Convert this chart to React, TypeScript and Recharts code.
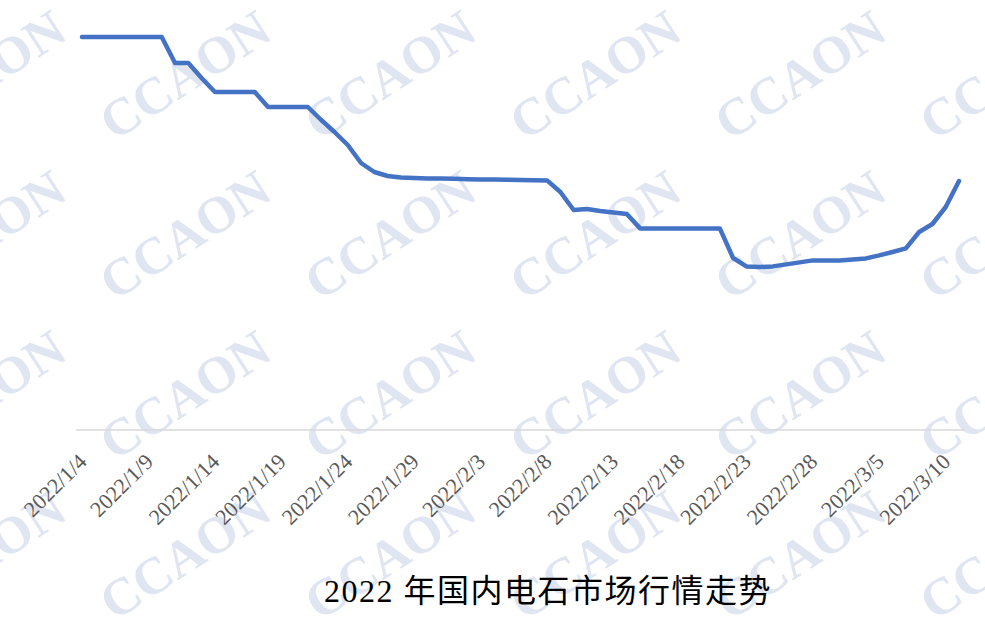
import { LineChart, Line, XAxis, YAxis } from "recharts";

const dates = [
  "2022/1/4", "2022/1/5", "2022/1/6", "2022/1/7", "2022/1/8", "2022/1/9", "2022/1/10",
  "2022/1/11", "2022/1/12", "2022/1/13", "2022/1/14", "2022/1/15", "2022/1/16", "2022/1/17",
  "2022/1/18", "2022/1/19", "2022/1/20", "2022/1/21", "2022/1/22", "2022/1/23", "2022/1/24",
  "2022/1/25", "2022/1/26", "2022/1/27", "2022/1/28", "2022/1/29", "2022/1/30", "2022/1/31",
  "2022/2/1", "2022/2/2", "2022/2/3", "2022/2/4", "2022/2/5", "2022/2/6", "2022/2/7",
  "2022/2/8", "2022/2/9", "2022/2/10", "2022/2/11", "2022/2/12", "2022/2/13", "2022/2/14",
  "2022/2/15", "2022/2/16", "2022/2/17", "2022/2/18", "2022/2/19", "2022/2/20", "2022/2/21",
  "2022/2/22", "2022/2/23", "2022/2/24", "2022/2/25", "2022/2/26", "2022/2/27", "2022/2/28",
  "2022/3/1", "2022/3/2", "2022/3/3", "2022/3/4", "2022/3/5", "2022/3/6", "2022/3/7",
  "2022/3/8", "2022/3/9", "2022/3/10", "2022/3/11",
];

// 电石价格 (元/吨)
const prices = [
  4965, 4965, 4965, 4965, 4965, 4965, 4965,
  4835, 4835, 4760, 4690, 4690, 4690, 4690,
  4615, 4615, 4615, 4615, 4550, 4490, 4425,
  4335, 4290, 4270, 4262, 4260, 4258, 4257,
  4256, 4254, 4253, 4252, 4251, 4250, 4249,
  4248, 4190, 4100, 4105, 4095, 4088, 4080,
  4008, 4008, 4008, 4008, 4008, 4008, 4008,
  3860, 3818, 3815, 3818, 3828, 3838, 3848,
  3848, 3848, 3853, 3858, 3873, 3890, 3908,
  3990, 4030, 4115, 4245,
];

const title = "2022 年国内电石市场行情走势";
const watermark = "CCAON";

const data = dates.map((d, i) => ({ date: d, price: prices[i] }));

const DateTick = (props: any) => {
  const { x, y, payload } = props;
  const ax = x + 6;
  const ay = y + 25;
  return (
    <text
      x={ax}
      y={ay}
      transform={`rotate(-45, ${ax}, ${ay})`}
      textAnchor="end"
      fontFamily="'Liberation Serif', serif"
      fontSize={22}
      fill="#595959"
    >
      {payload.value}
    </text>
  );
};

// background watermark grid
const marks: { x: number; y: number }[] = [];
for (const y of [75, 235, 395, 555]) {
  for (const x of [-20, 185, 390, 595, 800, 1005]) marks.push({ x, y });
}

export default function App() {
  return (
    <div style={{ position: "absolute", left: 0, top: 0, width: 985, height: 623, background: "#fff" }}>
      <svg width={985} height={623} style={{ position: "absolute", left: 0, top: 0 }}>
        {marks.map((m, i) => (
          <text
            key={i}
            x={m.x}
            y={m.y}
            transform={`rotate(-33, ${m.x}, ${m.y})`}
            textAnchor="middle"
            dominantBaseline="central"
            fontFamily="'Liberation Serif', serif"
            fontWeight="bold"
            fontSize={52}
            fill="#dfe5f1"
          >
            {watermark}
          </text>
        ))}
        <text
          x={548}
          y={602}
          textAnchor="middle"
          fontFamily="'Liberation Serif', 'Noto Sans CJK SC', serif"
          fontSize={32}
          letterSpacing={1.5}
          fill="#000"
        >
          {title}
        </text>
      </svg>
      <div style={{ position: "absolute", left: 0, top: 0 }}>
        <LineChart width={985} height={623} data={data} margin={{ top: 30, right: 20, bottom: 73, left: 76 }}>
          <XAxis
            dataKey="date"
            interval={4}
            tickLine={false}
            axisLine={{ stroke: "#d9d9d9", strokeWidth: 1.5 }}
            tick={<DateTick />}
            height={120}
            padding={{ left: 6, right: 6 }}
          />
          <YAxis hide domain={[3000, 5000]} />
          <Line
            type="linear"
            dataKey="price"
            stroke="#4472c4"
            strokeWidth={4.5}
            strokeLinejoin="round"
            strokeLinecap="round"
            dot={false}
            isAnimationActive={false}
          />
        </LineChart>
      </div>
    </div>
  );
}
